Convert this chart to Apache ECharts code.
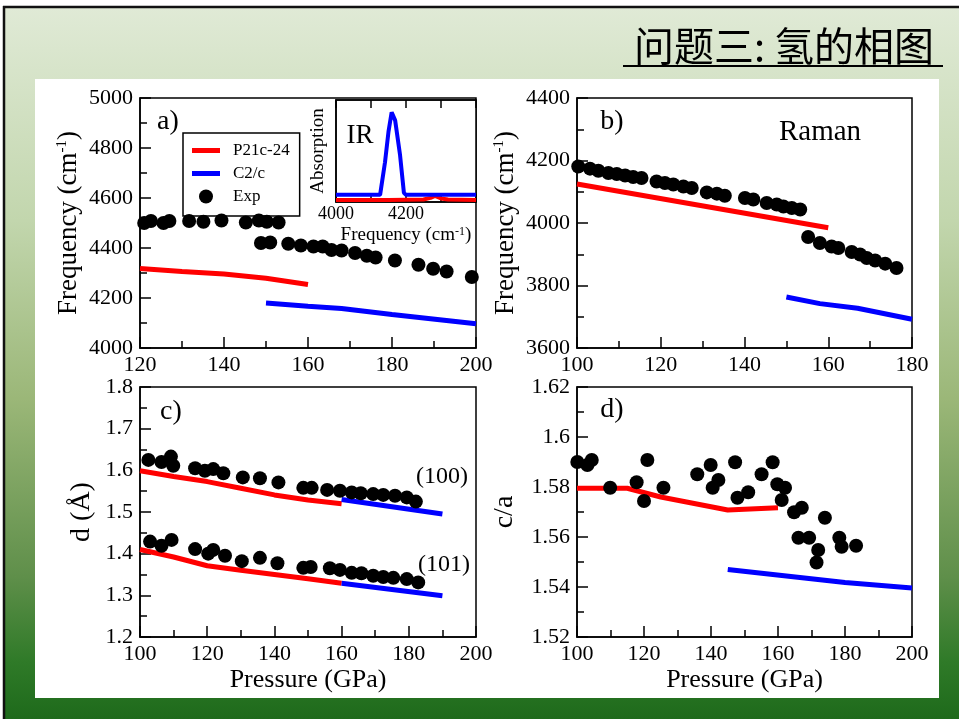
<!DOCTYPE html>
<html><head><meta charset="utf-8">
<script src="https://cdn.jsdelivr.net/npm/echarts@6/dist/echarts.min.js"></script>
<style>html,body{margin:0;padding:0;background:#fff}#c{width:959px;height:719px}</style>
</head><body><div id="c"></div>
<script>
const SERIF = "'Liberation Serif','DejaVu Serif',serif";

// ---- Panel a) IR frequencies ----
const aP21c = [[120,4318],[130,4306],[140,4296],[150,4279],[160,4254]];
const aC2c  = [[150,4180],[160,4167],[168,4158],[180,4134],[200,4097]];
const aExp  = [[121,4500],[122.6,4508],[125.6,4500],[127,4508],[131.7,4508],[135.1,4505],[139.4,4510],[145.2,4502],[148.3,4510],[150.2,4505],[153,4502],
  [148.8,4420],[151,4422],[155.3,4417],[158.3,4410],[161.3,4406],[163.5,4406],[165.6,4392],[168,4390],[171.2,4380],[174,4369],[176.1,4362],[180.7,4350],[186.3,4333],[189.8,4317],[193,4306],[199,4284]];
// ---- Inset IR spectrum ----
const irRed  = [[4000,0.02],[4150,0.02],[4250,0.025],[4270,0.04],[4283,0.06],[4300,0.035],[4320,0.025],[4400,0.02]];
const irBlue = [[4000,0.07],[4126,0.07],[4140,0.39],[4150,0.69],[4159,0.88],[4169,0.8],[4183,0.46],[4194,0.09],[4200,0.07],[4400,0.07]];
// ---- Panel b) Raman ----
const bP21c = [[100,4125],[160,3985]];
const bC2c  = [[150,3763],[158,3742],[167,3727],[180,3692]];
const bExp  = [[100.3,4181],[103.1,4174],[105.1,4167],[107.5,4160],[109.5,4157],[111.5,4152],[113.4,4147],[115.4,4144],[119,4133],[121,4128],[123,4123],[125.4,4117],[127.4,4112],[131,4098],[133.4,4094],[135.3,4087],[140.1,4080],[142.1,4075],[145.3,4064],[147.7,4059],[149.3,4053],[151.3,4048],[153.3,4043],
  [155.2,3955],[158,3936],[160.8,3925],[162.4,3920],[165.6,3907],[167.6,3899],[169.2,3888],[171.2,3880],[173.6,3870],[176.3,3856]];
// ---- Panel c) d spacing ----
const cP21c100 = [[100,1.599],[110,1.585],[120,1.573],[130,1.557],[140,1.541],[150,1.529],[160,1.52]];
const cC2c100  = [[160,1.53],[190,1.495]];
const cExp100  = [[102.5,1.625],[106.4,1.62],[109.2,1.633],[109.9,1.611],[116.4,1.605],[119.3,1.599],[121.8,1.603],[124.8,1.593],[130.6,1.583],[135.7,1.581],[141.2,1.571],[148.6,1.558],[151.1,1.558],[155.7,1.553],[159.5,1.551],[163,1.547],[165.7,1.545],[169.4,1.543],[172.4,1.541],[175.9,1.539],[179.4,1.535],[182.1,1.525]];
const cP21c101 = [[100,1.41],[110,1.392],[120,1.371],[130,1.36],[140,1.35],[150,1.34],[160,1.329]];
const cC2c101  = [[160,1.329],[190,1.299]];
const cExp101  = [[103,1.429],[106.4,1.419],[109.4,1.433],[116.4,1.411],[120.3,1.4],[121.8,1.409],[125.3,1.395],[130.3,1.382],[135.7,1.39],[140.9,1.377],[148.6,1.366],[150.8,1.368],[156.5,1.365],[159.5,1.361],[163,1.354],[165.9,1.353],[169.4,1.347],[172.4,1.344],[175.4,1.342],[179.4,1.339],[182.8,1.331]];
// ---- Panel d) c/a ----
const dP21c = [[100,1.5795],[115,1.5795],[125,1.576],[145,1.5708],[160,1.5717]];
const dC2c  = [[145,1.547],[180,1.5418],[200,1.5396]];
const dExp  = [[100.1,1.59],[103.1,1.5888],[104.4,1.5908],[109.9,1.5797],[117.8,1.5819],[120,1.5744],[121,1.5908],[125.8,1.5797],[135.9,1.5851],[139.9,1.5888],[140.5,1.5797],[142.2,1.5828],[147.2,1.5899],[147.9,1.5757],[151.1,1.5779],[155.1,1.5851],[158.4,1.5899],[159.8,1.5811],[161.1,1.5748],[162.1,1.5797],[164.8,1.5699],[167.1,1.5717],[166.1,1.5597],[169.3,1.5597],[172,1.5548],[171.5,1.5498],[174,1.5677],[178.3,1.5597],[179,1.5561],[183.3,1.5565]];

const RED = '#ff0000', BLUE = '#0000ff', BLACK = '#000';
const fmt = v => String(parseFloat(Number(v).toFixed(4)));

const tickStyle = {color: BLACK, width: 1.5};
function lab(size, margin, extra) {
  return Object.assign({color: BLACK, fontFamily: SERIF, fontSize: size, margin, formatter: fmt}, extra || {});
}
function ax(o) {
  return Object.assign({
    type: 'value',
    axisLine: {show: true, onZero: false, lineStyle: {color: BLACK, width: 1.5}},
    axisTick: {show: true, inside: true, length: 11, lineStyle: tickStyle},
    minorTick: {show: true, splitNumber: 2, length: 7, lineStyle: tickStyle},
    splitLine: {show: false},
    axisLabel: lab(22, 6),
    nameTextStyle: {color: BLACK, fontFamily: SERIF, fontSize: 26}
  }, o);
}
const freqName = '{t|Frequency (cm}{s|-1}{t|)}';
const freqRich = {t: {fontFamily: SERIF, fontSize: 27, color: BLACK}, s: {fontFamily: SERIF, fontSize: 15, color: BLACK, verticalAlign: 'top'}};
const inRich = {t: {fontFamily: SERIF, fontSize: 19, color: BLACK}, s: {fontFamily: SERIF, fontSize: 12, color: BLACK, verticalAlign: 'top'}};

function lineS(name, data, xi, yi, color, w) {
  return {type: 'line', name, data, xAxisIndex: xi, yAxisIndex: yi, symbol: 'none', smooth: false,
    lineStyle: {color, width: w || 5}, itemStyle: {color}, z: 3, animation: false};
}
function dotS(data, xi, yi) {
  return {type: 'scatter', name: 'Exp', data, xAxisIndex: xi, yAxisIndex: yi, symbol: 'circle', symbolSize: 14,
    itemStyle: {color: BLACK, opacity: 1}, z: 4, animation: false};
}
function txt(text, x, y, size, font) {
  return {type: 'text', z: 50, style: {text, x, y, fill: BLACK, font: size + 'px ' + (font || SERIF),
    align: 'center', verticalAlign: 'middle', textAlign: 'center', textVerticalAlign: 'middle'}};
}

const gridBox = {show: true, borderColor: BLACK, borderWidth: 1.5, backgroundColor: 'transparent'};
const lineIcon = 'path://M0,0H28V5H0Z';
const option = {
  animation: false,
  grid: [
    Object.assign({left: 140, top: 98, width: 336, height: 250}, gridBox),
    Object.assign({left: 577, top: 98, width: 335, height: 250}, gridBox),
    Object.assign({left: 140, top: 387, width: 336, height: 250}, gridBox),
    Object.assign({left: 577, top: 387, width: 335, height: 250}, gridBox),
    Object.assign({}, gridBox, {left: 336, top: 100, width: 140, height: 102, backgroundColor: '#fff'})
  ],
  xAxis: [
    ax({gridIndex: 0, min: 120, max: 200, interval: 20}),
    ax({gridIndex: 1, min: 100, max: 180, interval: 20}),
    ax({gridIndex: 2, min: 100, max: 200, interval: 20, name: 'Pressure (GPa)', nameLocation: 'middle', nameGap: 30,
        nameTextStyle: {color: BLACK, fontFamily: SERIF, fontSize: 26}}),
    ax({gridIndex: 3, min: 100, max: 200, interval: 20, name: 'Pressure (GPa)', nameLocation: 'middle', nameGap: 30,
        nameTextStyle: {color: BLACK, fontFamily: SERIF, fontSize: 26}}),
    ax({gridIndex: 4, min: 4000, max: 4400, interval: 200, axisTick: {show: true, inside: true, length: 8, lineStyle: tickStyle},
        minorTick: {show: true, splitNumber: 2, length: 8, lineStyle: tickStyle},
        axisLabel: lab(18, 3, {showMaxLabel: false}),
        name: freqName, nameLocation: 'middle', nameGap: 24, nameTextStyle: {rich: inRich}}),
    ax({gridIndex: 4, min: 4000, max: 4400, interval: 200, position: 'top', axisLabel: {show: false},
        axisTick: {show: true, inside: true, length: 8, lineStyle: tickStyle},
        minorTick: {show: true, splitNumber: 2, length: 8, lineStyle: tickStyle}})
  ],
  yAxis: [
    ax({gridIndex: 0, min: 4000, max: 5000, interval: 200, axisLabel: lab(22, 7),
        name: freqName, nameLocation: 'middle', nameGap: 58, nameTextStyle: {rich: freqRich}}),
    ax({gridIndex: 1, min: 3600, max: 4400, interval: 200, axisLabel: lab(22, 7),
        name: freqName, nameLocation: 'middle', nameGap: 58, nameTextStyle: {rich: freqRich}}),
    ax({gridIndex: 2, min: 1.2, max: 1.8, interval: 0.1, axisLabel: lab(22, 7),
        name: 'd (Å)', nameLocation: 'middle', nameGap: 44, nameTextStyle: {color: BLACK, fontFamily: SERIF, fontSize: 28}}),
    ax({gridIndex: 3, min: 1.52, max: 1.62, interval: 0.02, axisLabel: lab(22, 7),
        name: 'c/a', nameLocation: 'middle', nameGap: 58, nameTextStyle: {color: BLACK, fontFamily: SERIF, fontSize: 28}}),
    ax({gridIndex: 4, min: 0, max: 1, axisLabel: {show: false}, axisTick: {show: false}, minorTick: {show: false},
        name: 'Absorption', nameLocation: 'middle', nameGap: 8, nameTextStyle: {color: BLACK, fontFamily: SERIF, fontSize: 19}})
  ],
  legend: {
    left: 183, top: 133, orient: 'vertical', selectedMode: false,
    data: [
      {name: 'P21c-24', icon: lineIcon, itemStyle: {color: RED}},
      {name: 'C2/c', icon: lineIcon, itemStyle: {color: BLUE}},
      {name: 'Exp', icon: 'circle', itemStyle: {color: BLACK}}
    ],
    itemWidth: 28, itemHeight: 14, itemGap: 6,
    padding: [9, 10, 11, 9],
    borderColor: BLACK, borderWidth: 1.5, backgroundColor: '#fff',
    textStyle: {color: BLACK, fontFamily: SERIF, fontSize: 17, padding: [0, 0, 0, 8]}
  },
  series: [
    lineS('P21c-24', aP21c, 0, 0, RED), lineS('C2/c', aC2c, 0, 0, BLUE), dotS(aExp, 0, 0),
    lineS('P21c-24', bP21c, 1, 1, RED), lineS('C2/c', bC2c, 1, 1, BLUE), dotS(bExp, 1, 1),
    lineS('P21c-24', cP21c100, 2, 2, RED), lineS('C2/c', cC2c100, 2, 2, BLUE), dotS(cExp100, 2, 2),
    lineS('P21c-24', cP21c101, 2, 2, RED), lineS('C2/c', cC2c101, 2, 2, BLUE), dotS(cExp101, 2, 2),
    lineS('P21c-24', dP21c, 3, 3, RED), lineS('C2/c', dC2c, 3, 3, BLUE), dotS(dExp, 3, 3),
    lineS('P21c-24', irRed, 4, 4, RED, 4), lineS('C2/c', irBlue, 4, 4, BLUE, 4)
  ],
  graphic: [
    {type: 'rect', z: -100, shape: {x: 0, y: 0, width: 959, height: 719}, style: {fill: '#fff'}},
    {type: 'rect', z: -99, shape: {x: 4, y: 7, width: 955, height: 712}, style: {fill: new echarts.graphic.LinearGradient(0, 0, 0, 1, [
      {offset: 0, color: '#e0ead6'}, {offset: 0.3, color: '#c2d6ad'}, {offset: 0.55, color: '#9bb778'},
      {offset: 0.8, color: '#5f8f4a'}, {offset: 0.92, color: '#2f7a28'}, {offset: 1, color: '#1e6a1b'}])}},
    {type: 'line', z: -98, shape: {x1: 3, y1: 7, x2: 959, y2: 7}, style: {stroke: '#111', lineWidth: 2.5}},
    {type: 'line', z: -98, shape: {x1: 4, y1: 6, x2: 4, y2: 719}, style: {stroke: '#111', lineWidth: 2.5}},
    {type: 'rect', z: -97, shape: {x: 35, y: 79, width: 904, height: 619}, style: {fill: '#fff'}},
    txt('问题三: 氢的相图', 784, 46, 40, "'Noto Sans CJK SC',sans-serif"),
    {type: 'line', z: 50, shape: {x1: 623, y1: 66, x2: 943, y2: 66}, style: {stroke: BLACK, lineWidth: 2}},
    txt('a)', 168, 122, 28), txt('b)', 612, 122, 28), txt('c)', 171, 412, 28), txt('d)', 612, 410, 28),
    txt('Raman', 820, 132, 29), txt('IR', 360, 136, 27),
    txt('(100)', 442, 477, 24), txt('(101)', 444, 565, 24)
  ]
};
const chart = echarts.init(document.getElementById('c'), null, {renderer: 'canvas'});
chart.setOption(option);
</script></body></html>
